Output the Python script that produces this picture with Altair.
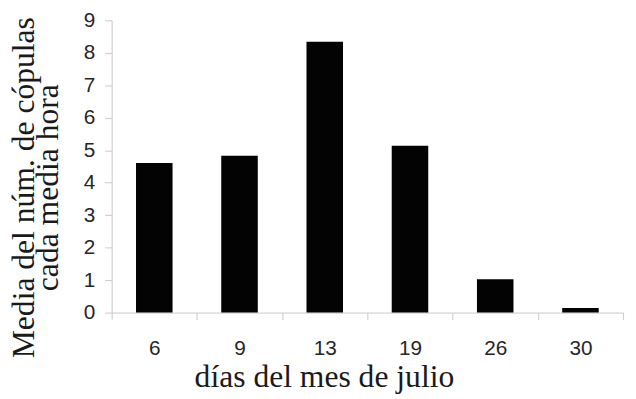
import altair as alt
import pandas as pd

dias = ["6", "9", "13", "19", "26", "30"]
media = [4.61, 4.83, 8.34, 5.14, 1.03, 0.14]

df = pd.DataFrame({"dia": dias, "media": media})

chart = alt.Chart(df).mark_bar(size=37, color="#030303").encode(
    x=alt.X(
        "dia:N",
        sort=dias,
        scale=alt.Scale(paddingInner=0, paddingOuter=0),
        axis=alt.Axis(
            title="días del mes de julio",
            labelAngle=0,
            tickBand="extent",
            labelPadding=18,
            titleX=215,
            titleY=75,
            titleBaseline="alphabetic",
            titleAlign="center",
        ),
    ),
    y=alt.Y(
        "media:Q",
        scale=alt.Scale(domain=[0, 9], nice=False),
        axis=alt.Axis(
            title=["Media del núm. de cópulas", "cada media hora"],
            values=list(range(10)),
            format="d",
            grid=False,
            labelPadding=10,
            titleX=-79,
            titleY=169,
            titleAngle=-90,
            titleBaseline="alphabetic",
            titleAlign="center",
            titleLineHeight=24,
        ),
    ),
).properties(
    width=518,
    height=296,
    autosize=alt.AutoSizeParams(type="none"),
    padding={"left": 105, "top": 10, "right": 5, "bottom": 83},
).configure_view(
    stroke=None
).configure_axis(
    domainColor="#c8c8c8",
    tickColor="#c8c8c8",
    tickSize=7,
    grid=False,
    labelFont="Liberation Sans",
    labelFontSize=21,
    labelColor="#262626",
    titleFont="Liberation Serif",
    titleFontSize=32,
    titleFontWeight="normal",
    titleColor="#1a1a1a",
)

chart.save("out.html", embed_options={"renderer": "svg", "actions": False})
